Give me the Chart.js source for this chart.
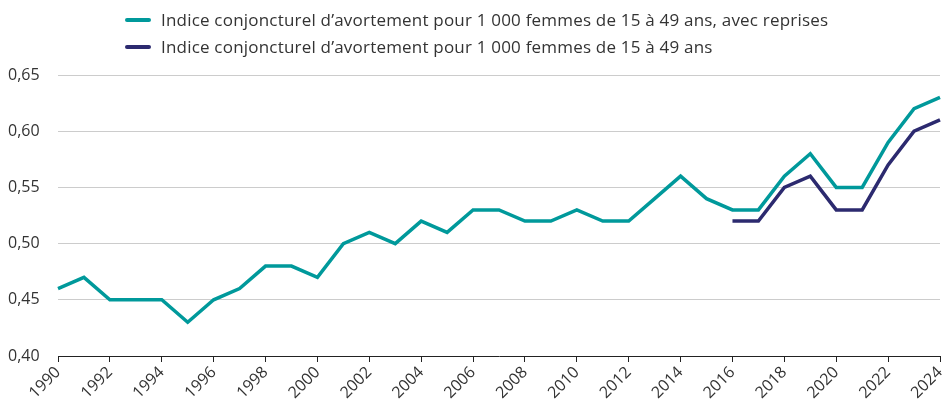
<!DOCTYPE html>
<html>
<head>
<meta charset="utf-8">
<script src="https://cdn.jsdelivr.net/npm/chart.js@4"></script>
<style>
  body { margin: 0; background: #fff; font-family: "Open Sans", sans-serif; }
  #wrap { position: relative; width: 944px; height: 401px; }
  #legend { position: absolute; left: 125px; top: 6px; font-size: 17px; letter-spacing: 0.2px; color: #333; }
  .item { display: flex; align-items: center; height: 27px; }
  .swatch { width: 26px; height: 4px; border-radius: 2px; margin-right: 10px; }
</style>
</head>
<body>
<div id="wrap">
  <canvas id="chart" width="944" height="401"></canvas>
  <div id="legend"></div>
</div>
<script>
// Data
const years = [];
for (let y = 1990; y <= 2024; y++) years.push(String(y));

const withReprises = [0.46, 0.47, 0.45, 0.45, 0.45, 0.43, 0.45, 0.46, 0.48, 0.48,
  0.47, 0.50, 0.51, 0.50, 0.52, 0.51, 0.53, 0.53, 0.52, 0.52,
  0.53, 0.52, 0.52, 0.54, 0.56, 0.54, 0.53, 0.53, 0.56, 0.58,
  0.55, 0.55, 0.59, 0.62, 0.63];

const withoutReprises = [null, null, null, null, null, null, null, null, null, null,
  null, null, null, null, null, null, null, null, null, null,
  null, null, null, null, null, null, 0.52, 0.52, 0.55, 0.56,
  0.53, 0.53, 0.57, 0.60, 0.61];

const yTicks = [0.40, 0.45, 0.50, 0.55, 0.60, 0.65];

const series = [
  { label: "Indice conjoncturel d\u2019avortement pour 1\u00a0000 femmes de 15 à 49 ans, avec reprises", data: withReprises, color: "#00999b" },
  { label: "Indice conjoncturel d\u2019avortement pour 1\u00a0000 femmes de 15 à 49 ans", data: withoutReprises, color: "#2c2a6f" },
];

// HTML legend
const legend = document.getElementById("legend");
series.forEach((s) => {
  const div = document.createElement("div");
  div.className = "item";
  div.innerHTML = '<span class="swatch" style="background:' + s.color + '"></span><span>' + s.label + "</span>";
  legend.appendChild(div);
});

const ctx = document.getElementById("chart").getContext("2d");
const chart = new Chart(ctx, {
  type: "line",
  data: {
    labels: years,
    datasets: series.map((s) => ({
      label: s.label,
      data: s.data,
      borderColor: s.color,
      backgroundColor: s.color,
      borderWidth: 3.5,
      pointRadius: 0,
      tension: 0,
      fill: false,
      spanGaps: false,
    })),
  },
  options: {
    responsive: false,
    animation: false,
    layout: { padding: { top: 75, left: 8, right: 4, bottom: 0 } },
    plugins: { legend: { display: false }, tooltip: { enabled: false } },
    scales: {
      x: {
        offset: false,
        border: { color: "#222", width: 1 },
        grid: {
          drawOnChartArea: false,
          tickLength: 6,
          tickColor: (c) => (c.index % 2 === 0 ? "#222" : "rgba(0,0,0,0)"),
        },
        ticks: {
          autoSkip: false,
          minRotation: 45,
          maxRotation: 45,
          padding: 1,
          color: "#333",
          font: { family: "Open Sans", size: 16 },
          callback: function (v, i) {
            return i % 2 === 0 ? this.getLabelForValue(v) : "";
          },
        },
        afterFit: (s) => { s.height = 45; s.paddingLeft = 0; s.paddingRight = 0; },
      },
      y: {
        min: 0.40,
        max: 0.65,
        border: { display: false },
        grid: {
          drawTicks: false,
          color: (c) => (c.tick && Math.abs(c.tick.value - 0.40) < 1e-6 ? "rgba(0,0,0,0)" : "#cccccc"),
          lineWidth: 1,
        },
        afterBuildTicks: (s) => { s.ticks = yTicks.map((v) => ({ value: v })); },
        ticks: {
          crossAlign: "far",
          color: "#333",
          font: { family: "Open Sans", size: 16 },
          callback: (v) => v.toFixed(2).replace(".", ","),
        },
        afterFit: (s) => { s.width = 50; s.paddingTop = 0; s.paddingBottom = 0; },
      },
    },
  },
});
</script>
</body>
</html>
